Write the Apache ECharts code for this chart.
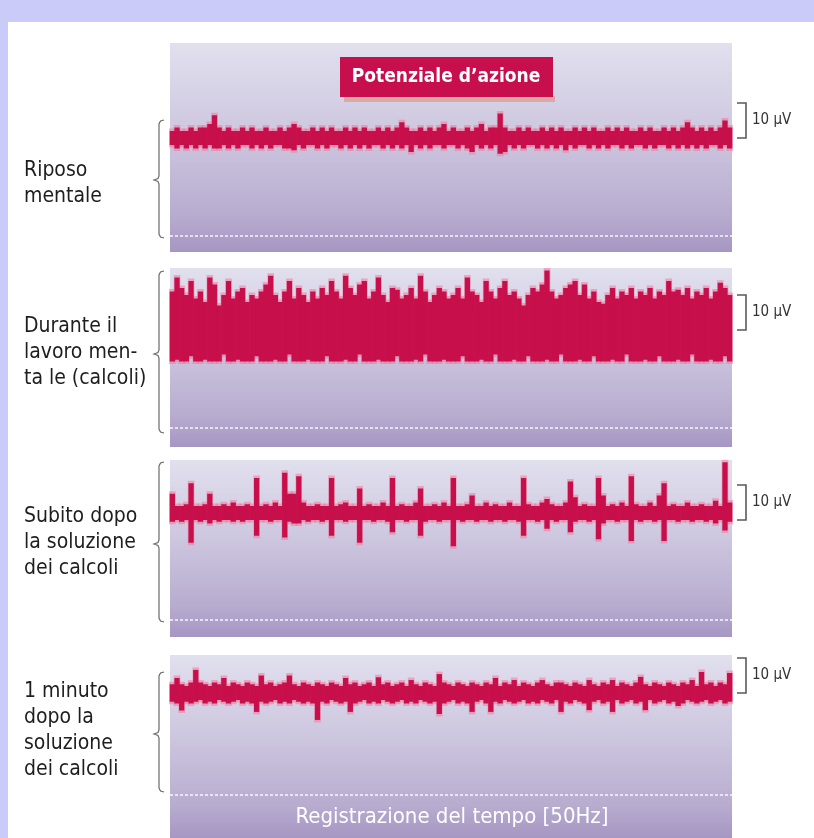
<!DOCTYPE html>
<html>
<head>
<meta charset="utf-8">
<script src="https://cdn.jsdelivr.net/npm/echarts@6/dist/echarts.min.js"></script>
<style>
html,body{margin:0;padding:0;background:#fff;}
#c{width:814px;height:838px;}
</style>
</head>
<body>
<div id="c"></div>
<script>
// ---- Data (µV, envelope of each sampled column: highs and lows) ----
const panelLabels = [
  "Riposo\nmentale",
  "Durante il\nlavoro men-\nta le (calcoli)",
  "Subito dopo\nla soluzione\ndei calcoli",
  "1 minuto\ndopo la\nsoluzione\ndei calcoli"
];
const titleText = "Potenziale d\u2019azione";
const timeText = "Registrazione del tempo [50Hz]";
const scaleValue = 10;           // µV
const scaleLabel = "10 \u00b5V";

const p1Hi = [2,3,2,2,3,2,3,3,4,6.5,3,2,3,2,2,3,2,3,2,2,
  3,2,2,3,2,3,4,3,2,2,3,2,3,2,3,2,2,3,2,3,
  2,3,2,2,3,2,3,2,3,4.5,3,2,2,3,2,3,2,3,4,2,
  3,2,2,3,2,3,4,2,3,3,7,3,2,2,3,2,3,2,2,3,
  2,3,2,3,2,2,3,2,3,2,3,2,2,3,2,3,2,3,2,2,
  3,2,3,2,2,3,2,3,2,3,4.5,3,2,3,2,3,2,3,5,3];
const p1Lo = [-2,-3,-2,-3,-2,-3,-2,-3,-2,-3,-3,-2,-3,-2,-3,-2,-2,-3,-2,-3,
  -2,-3,-2,-2,-3,-3,-3.5,-2,-3,-2,-2,-3,-2,-3,-2,-2,-3,-2,-3,-2,
  -3,-2,-3,-2,-2,-3,-2,-3,-2,-3,-2,-4,-2,-3,-2,-3,-2,-2,-3,-2,
  -2,-3,-2,-3,-4,-2,-3,-2,-3,-2,-4.5,-4,-2,-3,-2,-3,-2,-2,-3,-2,
  -3,-2,-3,-2,-3.5,-2,-3,-2,-2,-3,-2,-3,-2,-3,-2,-2,-3,-2,-3,-2,
  -2,-3,-2,-3,-2,-2,-3,-2,-3,-2,-3,-2,-3,-2,-3,-2,-2,-3,-2,-3];

const p2Hi = [11,15,12,10,14,9,11,8,15,13,7,10,14,9,11,12,8,10,9,11,
  13,15.5,10,8,11,14,9,12,10,8,11,9,12,10,14,11,9,15.5,12,10,
  13,14,9,11,15,10,8,12,11.5,9,10,12,9,15.5,11,8,10,12,11,9,
  10,12,9,15,11,10,8,14,11,9,12,14,10,11,9,7,10,12,11,13,
  17,11,9,10,12,13,14,10,13,9,11,8,7.5,10,12,9,11,10,12,9,
  11,10,12,9,11,10,14,11,11.5,10,12,9,11,10,12,9,11,13.5,12,10];
const p2Lo = [-9,-8.5,-9,-9,-7.5,-9,-9,-8.5,-9,-9,-9,-7,-9,-9,-8.5,-9,-9,-9,-7.5,-9,
  -9,-9,-8.5,-9,-9,-7,-9,-9,-9,-8.5,-9,-9,-9,-7.5,-9,-9,-9,-8.5,-9,-9,
  -7,-9,-9,-9,-8.5,-9,-9,-9,-7.5,-9,-9,-9,-8.5,-9,-7,-9,-9,-9,-8.5,-9,
  -9,-9,-7.5,-9,-9,-9,-8.5,-9,-9,-7,-9,-9,-9,-8.5,-9,-9,-7.5,-9,-9,-9,
  -8.5,-9,-9,-7,-9,-9,-9,-8.5,-9,-9,-7.5,-9,-9,-9,-8.5,-9,-9,-7,-9,-9,
  -9,-8.5,-9,-9,-7.5,-9,-9,-9,-8.5,-9,-9,-7,-9,-9,-9,-8.5,-9,-9,-7.5,-9];

const p3Hi = [5.5,2,2,2.5,8.5,2,2,2.5,5.5,2,2,2.5,2,3,2,2,2.5,2,10,2,
  2.5,2,3,2,11.5,5.5,5.5,10.5,3,2,2,2.5,2,2,10,2,2.5,3,2,2,
  7,2,2.5,2,2,3,2,10,2,2.5,2,2,3,7,2,2,2.5,2,3,2,
  10,2,2,2.5,5,2,2,3,2,2.5,2,2,3,2,2,10,2.5,2,2,3,
  4,2.5,2,2,3,9,4.5,2,2.5,2,2,10,5,2,2.5,2,3,2,10.5,2.5,
  2,2,3,2,5,8.5,2,2.5,2,2,3,2,2,2.5,2,2,3.5,2,14.5,3];
const p3Lo = [-2.5,-2,-2.5,-2,-8.5,-2,-2.5,-2,-3,-2,-2.5,-2,-2,-2.5,-2,-2.5,-2,-2,-6.5,-2,
  -2,-2.5,-2,-2,-7,-2.5,-3,-3,-2,-2.5,-2,-2,-2.5,-2,-6.5,-2,-2,-2.5,-2,-2,
  -8.5,-2,-2,-2.5,-2,-2,-2.5,-5.5,-2,-2,-2.5,-2,-2,-6.5,-2.5,-2,-2,-2.5,-2,-2,
  -9.5,-2,-2.5,-2,-2,-2.5,-2,-2,-2.5,-2,-2,-2.5,-2,-2,-2.5,-6.5,-2,-2,-2.5,-2,
  -4.5,-2,-2.5,-2,-2,-5.5,-2.5,-2,-2,-2.5,-2,-7.5,-3,-2,-2,-2.5,-2,-2,-8,-2,
  -2.5,-2,-2,-2.5,-2,-8,-2,-2,-2.5,-2,-2,-2.5,-2,-2,-2.5,-2,-3,-2,-5,-2.5];

const p4Hi = [2.5,4.3,2.5,2,3,6.6,3,2.5,2,3,2.5,4.3,2,3,2.5,2,3,2.5,2,5,
  2.5,3,2,2.5,3,5,2.5,2,3,2.5,2,3,2.5,2,3,2.5,2,4.3,2.5,3,
  2,2.5,3,2,4.5,2.5,3,2,2.5,3,2,3.7,2.5,2,3,2.5,2,5.4,3,2.5,
  2,3,2.5,2,3,2.5,2,3,2.5,4.3,2,3,2.5,3.7,2,3,2.5,2,3,3.7,
  2.5,2,3,3,2.5,2,3,2.5,2,3.7,2.5,2,3,2.5,3.7,2,3,2.5,2,3,
  4.6,2.5,2,3,2.5,2,3,2.5,2,3,2.5,3.7,2,6,2.5,3,2,3,2.5,5.7];
const p4Lo = [-2.5,-3,-5,-2.5,-3,-2.5,-2,-3,-2.5,-3,-2,-2.5,-3,-2.5,-2,-3,-2.5,-3,-5.4,-2.5,
  -3,-2.5,-2,-3,-2.5,-3,-2,-2.5,-3,-2.5,-3,-7.7,-2.5,-3,-2,-2.5,-3,-2.5,-5.4,-3,
  -2.5,-2,-3,-2.5,-3,-2,-2.5,-3,-2.5,-2,-3,-2.5,-3,-2,-2.5,-3,-2.5,-6,-3,-2.5,
  -2,-3,-2.5,-3,-5.4,-2.5,-2,-3,-5.4,-2.5,-3,-2,-2.5,-3,-2.5,-2,-3,-2.5,-3,-2,
  -2.5,-3,-2,-5.4,-2.5,-3,-2,-2.5,-3,-4.9,-2.5,-2,-3,-2.5,-5.4,-2,-3,-2.5,-2,-3,
  -2.5,-4.9,-2,-3,-2.5,-2,-3,-2.5,-3.7,-3,-2,-2.5,-3,-2.5,-2,-3,-2.5,-2,-3,-2.5];

const highs = [p1Hi, p2Hi, p3Hi, p4Hi];
const lows  = [p1Lo, p2Lo, p3Lo, p4Lo];

// ---- Layout (pixels) ----
const PX = 3.5;               // px per µV
const LEFT = 170, RIGHT = 732;
const panels = [
  {top:43,  bottom:252, center:138, marker:236, brace:[120,238,180], labelY:184, barBase:0},
  {top:268, bottom:447, center:330, marker:428, brace:[271,433,354], labelY:353, barBase:0},
  {top:460, bottom:637, center:513, marker:620, brace:[462,622,544], labelY:543, barBase:-2},
  {top:655, bottom:838, center:693, marker:795, brace:[672,792,734], labelY:731, barBase:0}
];
const FONT = "'Liberation Sans Narrow','Arial Narrow','DejaVu Sans Condensed',sans-serif";

const chart = echarts.init(document.getElementById('c'), null, {renderer:'canvas'});

function traceRenderer(halo) {
  return function (params, api) {
    const i = api.value(0), lo = api.value(1), hi = api.value(2);
    const pTop = api.coord([i, hi]);
    const pBot = api.coord([i, lo]);
    const w = api.size([1, 0])[0];
    if (halo) {
      return {type:'rect', shape:{x:pTop[0]-w/2-1, y:pTop[1]-2.5, width:w+2, height:pBot[1]-pTop[1]+5},
              style:{fill:'rgba(242,120,155,0.55)'}};
    }
    return {type:'rect', shape:{x:pTop[0]-w/2-0.3, y:pTop[1], width:w+0.6, height:pBot[1]-pTop[1]},
            style:{fill:'#c70f4b'}};
  };
}

const grids = [], xAxes = [], yAxes = [], series = [];
panels.forEach((p, k) => {
  const N = highs[k].length;
  grids.push({left:LEFT, width:RIGHT-LEFT, top:p.top, height:p.bottom-p.top, show:false});
  xAxes.push({type:'value', gridIndex:k, min:-0.5, max:N-0.5, show:false});
  yAxes.push({type:'value', gridIndex:k, min:-(p.bottom-p.center)/PX, max:(p.center-p.top)/PX, show:false});
  const data = highs[k].map((h, i) => [i, lows[k][i], h]);
  series.push({type:'custom', xAxisIndex:k, yAxisIndex:k, z:3, silent:true,
    encode:{x:0, y:[1,2]}, renderItem:traceRenderer(true), data:data});
  series.push({type:'custom', xAxisIndex:k, yAxisIndex:k, z:4, silent:true,
    encode:{x:0, y:[1,2]}, renderItem:traceRenderer(false), data:data,
    markLine:{silent:true, symbol:'none', label:{show:false},
      lineStyle:{color:'rgba(255,255,255,0.9)', type:[3,2], width:1.6},
      data:[{yAxis:(p.center-p.marker)/PX}]}});
});

const bgFill = {type:'linear', x:0, y:0, x2:0, y2:1, colorStops:[
  {offset:0, color:'#e1e0ee'}, {offset:0.45, color:'#cdc6df'},
  {offset:0.82, color:'#b8accf'}, {offset:1, color:'#a696c3'}]};

const graphics = [];
// lavender frame strips
graphics.push({type:'rect', z:0, shape:{x:0, y:0, width:814, height:22}, style:{fill:'#cbcbfa'}});
graphics.push({type:'rect', z:0, shape:{x:0, y:0, width:8, height:838}, style:{fill:'#cbcbfa'}});
panels.forEach((p, k) => {
  graphics.push({type:'rect', z:1, shape:{x:LEFT, y:p.top, width:RIGHT-LEFT, height:p.bottom-p.top}, style:{fill:bgFill}});
  const [bt, bb, bm] = p.brace;
  const bx = 159;
  graphics.push({type:'polyline', z:5, shape:{points:[
      [bx+5,bt],[bx+1.5,bt+1],[bx,bt+4],[bx,bm-4],[bx-1,bm-1.5],[bx-5,bm],
      [bx-1,bm+1.5],[bx,bm+4],[bx,bb-4],[bx+1.5,bb-1],[bx+5,bb]]},
    style:{fill:null, stroke:'#6a6a6a', lineWidth:1.2}});
  graphics.push({type:'text', z:5, x:24, y:p.labelY, style:{text:panelLabels[k], font:`21px ${FONT}`,
    fill:'#1e1e1e', lineHeight:26, verticalAlign:'middle', align:'left'}});
});
// title box
graphics.push({type:'rect', z:6, shape:{x:344, y:96, width:211, height:6}, style:{fill:'#d9aaa4'}});
graphics.push({type:'rect', z:7, shape:{x:340, y:57, width:213, height:40}, style:{fill:'#c70f4e'}});
graphics.push({type:'text', z:8, x:446, y:77, style:{text:titleText, font:`bold 19px ${FONT}`, fill:'#fff',
  align:'center', verticalAlign:'middle'}});
graphics.push({type:'text', z:8, x:452, y:817, style:{text:timeText, font:`22px ${FONT}`, fill:'#fff',
  align:'center', verticalAlign:'middle'}});

chart.setOption({
  backgroundColor:'#ffffff',
  animation:false,
  grid:grids, xAxis:xAxes, yAxis:yAxes, series:series, graphic:graphics
});

// scale bars drawn through each panel's y scale
const bars = [];
panels.forEach((p, k) => {
  const a = chart.convertToPixel({gridIndex:k}, [0, p.barBase + scaleValue]);
  const b = chart.convertToPixel({gridIndex:k}, [0, p.barBase]);
  const yT = a[1], yB = b[1];
  bars.push({type:'polyline', z:6, shape:{points:[[737,yT],[746,yT],[746,yB],[737,yB]]},
    style:{fill:null, stroke:'#5a5a5a', lineWidth:1.6}});
  bars.push({type:'text', z:6, x:752, y:(yT+yB)/2, style:{text:scaleLabel, font:`15px ${FONT}`, fill:'#333',
    verticalAlign:'middle', align:'left'}});
});
chart.setOption({graphic:graphics.concat(bars)});
</script>
</body>
</html>
